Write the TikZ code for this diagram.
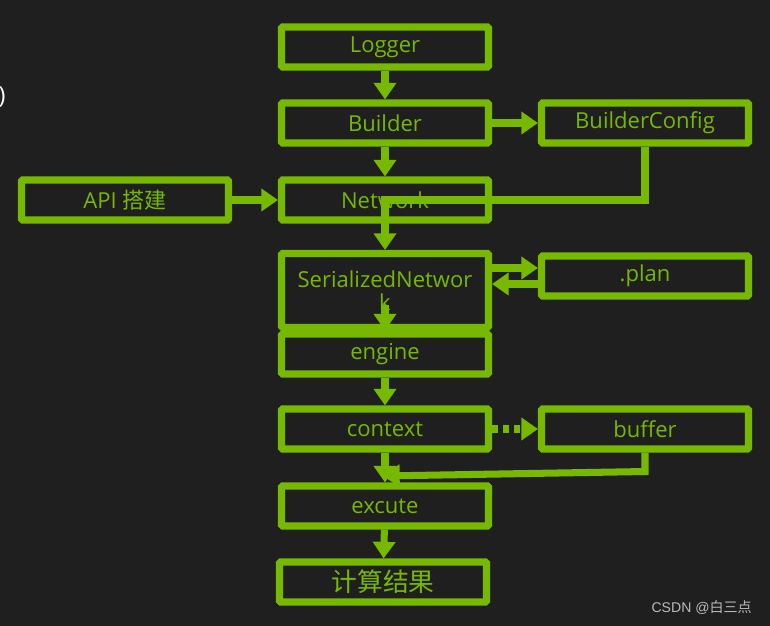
\documentclass[tikz,border=0pt]{standalone}
\usepackage{fontspec}
\setmainfont{Open Sans}
\newfontfamily\cjk{Noto Sans CJK SC}
\newfontfamily\markfont{Liberation Sans}
\usetikzlibrary{arrows.meta,calc}

\definecolor{nvgreen}{RGB}{118,185,0}
\definecolor{bgdark}{RGB}{31,31,31}
\definecolor{markgray}{RGB}{185,185,185}

\tikzset{
	box/.style={draw=nvgreen, line width=6pt, rounded corners=1pt,
		minimum width=6.21cm, minimum height=1.2cm, inner sep=2pt,
		text=nvgreen, align=center, font=\fontsize{18.8}{25}\selectfont},
	wire/.style={draw=nvgreen, line width=6pt},
	link/.style={wire, -{Triangle[length=0.5cm, width=0.66cm]}},
}

\begin{document}
\begin{tikzpicture}[x=0.03cm, y=-0.03cm]
	
	% background
	\fill[bgdark] (0,0) rectangle (770,626);
	\useasboundingbox (0,0) rectangle (770,626);
	
	% draw boxes
	\node[box] (logger) at (385,47) {Logger};
	\node[box] (builder) at (385,123) {Builder};
	\node[box] (config) at (645,123) {BuilderConfig};
	\node[box] (api) at (125,200) {API {\cjk 搭建}};
	\node[box] (network) at (385,200) {Network};
	\node[box, minimum height=2.22cm, font=\fontsize{18.8}{20}\selectfont] (serial) at (385,290.5) {SerializedNetwor\\k};
	\node[box] (plan) at (645,276) {.plan};
	\node[box] (engine) at (385,354) {engine};
	\node[box] (context) at (385,429) {context};
	\node[box] (buffer) at (645,429) {buffer};
	\node[box] (excute) at (385,506) {excute};
	\node[box, font=\cjk\fontsize{22}{26}\selectfont] (result) at (383,582) {计算结果};
	
	% draw arrows
	\draw[link] (logger) -- (builder);
	\draw[link] (builder) -- (config);
	\draw[link] (builder) -- (network);
	\draw[link] (api) -- (network);
	\draw[wire] (config.south) |- (network.center) -- (network.south);
	\draw[link] (network) -- (serial);
	\draw[link] ($(serial.east |- plan.west)+(0,-8)$) -- ($(plan.west)+(0,-8)$);
	\draw[link] ($(plan.west)+(0,8)$) -- ($(serial.east |- plan.west)+(0,8)$);
	\coordinate (kmark) at (385,305);
	\draw[link] (kmark) -- (engine.north);
	\draw[link] (engine) -- (context);
	\draw[link, dash pattern=on 0.18cm off 0.15cm] (context) -- (buffer);
	\draw[link] (context) -- (excute);
	\coordinate (merge) at (383,476);
	\draw[link] (buffer.south) -- ++(0,19) -- (merge);
	\draw[link] (excute) -- (result);
	
	% left edge and watermark
	\node[anchor=west, inner sep=0, text=white, font=\fontsize{20}{24}\selectfont] (paren) at (-1.5,97) {)};
	\node[anchor=east, inner sep=0, text=markgray, font=\markfont\fontsize{12}{14}\selectfont] (mark) at (752,608) {CSDN @{\cjk 白三点}};
	
\end{tikzpicture}
\end{document}
